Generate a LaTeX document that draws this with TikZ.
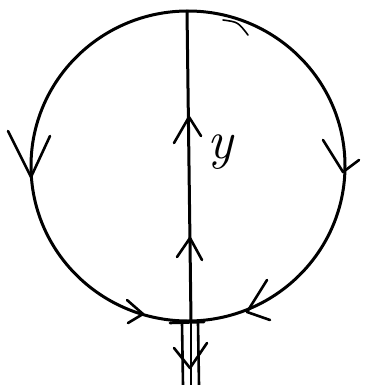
\documentclass[tikz,border=0pt]{standalone}
\usetikzlibrary{positioning}
\begin{document}
\begin{tikzpicture}[
    x=1pt, y=-1pt,
    pen/.style={line width=3pt, line cap=round, line join=round},
    tip/.style={line width=2.6pt, line cap=round, line join=round},
]
\useasboundingbox (0,0) rectangle (376,385);

% Loop and axis
\coordinate (ctr) at (188,166);
\coordinate (top) at (187,11);
\coordinate (bot) at (191,321);
\draw[pen] (ctr) ellipse [x radius=157, y radius=155];
\draw[pen] (top) -- (bot);

% Arrows on the loop
\draw[tip] (8,131) -- (31,177) -- (50,136);
\draw[tip] (323,140) -- (343,172) -- (359,160);
\draw[tip] (127,300) -- (143,314) -- (128,323);
\draw[tip] (267,280) -- (247,312) -- (270,320);
\draw[tip, line width=1.6pt] (223,20) .. controls (238,22) .. (248,35);

% Arrows on the axis
\draw[tip] (174,143) -- (189,117) -- (201,136);
\draw[tip] (177,257) -- (190,238) -- (202,260);
\node[font=\fontsize{54}{58}\selectfont\itshape, anchor=base west, inner sep=0pt] (ylab) at (207,158) {y};

% Stem below
\draw[tip] (170,323) -- (204,322);
\draw[tip] (182,323) -- (183,385);
\draw[tip] (bot) -- (191,385);
\draw[tip] (198,323) -- (199,385);
\draw[tip] (174,348) -- (190,368) -- (207,343);

\end{tikzpicture}
\end{document}
